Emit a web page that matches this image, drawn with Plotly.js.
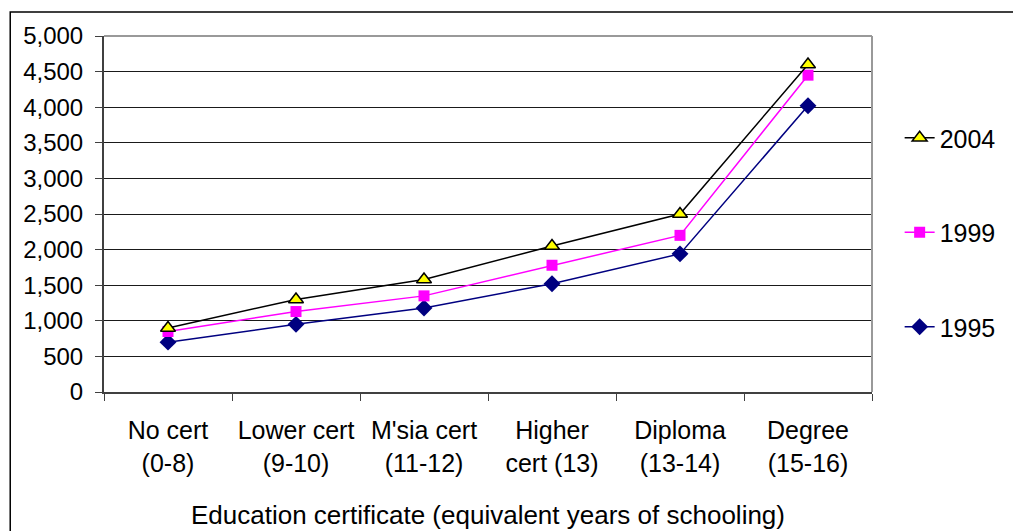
<!DOCTYPE html>
<html>
<head>
<meta charset="utf-8">
<script src="https://cdn.plot.ly/plotly-3.0.1.min.js"></script>
<style>
html,body{margin:0;padding:0;background:#fff;}
#chart{width:1013px;height:531px;}
</style>
</head>
<body>
<div id="chart"></div>
<script>
var categories = ["No cert<br>(0-8)", "Lower cert<br>(9-10)", "M'sia cert<br>(11-12)", "Higher<br>cert (13)", "Diploma<br>(13-14)", "Degree<br>(15-16)"];
var values2004 = [900, 1300, 1580, 2050, 2500, 4600];
var values1999 = [850, 1130, 1350, 1780, 2200, 4450];
var values1995 = [700, 950, 1180, 1520, 1940, 4020];
var yTicks = [0, 500, 1000, 1500, 2000, 2500, 3000, 3500, 4000, 4500, 5000];
var xTitle = "Education certificate (equivalent years of schooling)";

var font = "Liberation Sans, Arial, sans-serif";

var traces = [
  {x: categories, y: values1995, name: "1995", type: "scatter", mode: "lines+markers",
   line: {color: "#000080", width: 1.5},
   marker: {symbol: "diamond", size: 13, color: "#000080"},
   legendgroup: "c", legendrank: 3},
  {x: categories, y: values1999, name: "1999", type: "scatter", mode: "lines+markers",
   line: {color: "#ff00ff", width: 1.5},
   marker: {symbol: "square", size: 11, color: "#ff00ff"},
   legendgroup: "b", legendrank: 2},
  {x: categories, y: values2004, name: "2004", type: "scatter", mode: "lines+markers",
   line: {color: "#000000", width: 1.5},
   marker: {symbol: "triangle-up", size: 13, color: "#ffff00", line: {color: "#000000", width: 1.5}},
   legendgroup: "a", legendrank: 1}
];

var layout = {
  width: 1013, height: 531,
  margin: {l: 104, r: 139, t: 36, b: 139},
  paper_bgcolor: "#ffffff", plot_bgcolor: "#ffffff",
  font: {family: font, size: 25, color: "#000000"},
  showlegend: true,
  legend: {x: 1.036, xanchor: "left", y: 0.778, yanchor: "top",
           traceorder: "grouped", tracegroupgap: 59,
           font: {family: font, size: 25, color: "#000"}, bgcolor: "rgba(0,0,0,0)"},
  xaxis: {
    type: "category", categoryorder: "array", categoryarray: categories,
    range: [-0.5, 5.5], tickson: "boundaries",
    ticks: "outside", ticklen: 7, tickcolor: "#404040", tickwidth: 1,
    ticklabelstandoff: 15,
    showgrid: false, showline: true, linecolor: "#404040", linewidth: 2,
    tickfont: {family: font, size: 25, color: "#000"},
    title: {text: xTitle, font: {family: font, size: 26, color: "#000"}, standoff: 30},
    automargin: false, fixedrange: true
  },
  yaxis: {
    range: [0, 5000], tickvals: yTicks, tickformat: ",",
    ticks: "outside", ticklen: 7, tickcolor: "#404040", tickwidth: 1,
    ticklabelstandoff: 7,
    showgrid: true, gridcolor: "#1a1a1a", gridwidth: 1,
    zeroline: false, showline: true, linecolor: "#404040", linewidth: 2,
    tickfont: {family: font, size: 24, color: "#000"},
    automargin: false, fixedrange: true
  },
  shapes: [
    {type: "line", xref: "paper", yref: "paper", x0: 0, x1: 1, y0: 1, y1: 1,
     line: {color: "#999999", width: 2}},
    {type: "line", xref: "paper", yref: "paper", x0: 1, x1: 1, y0: 0, y1: 1,
     line: {color: "#999999", width: 2}},
    {type: "rect", xref: "paper", yref: "paper", x0: -0.1221, x1: 1.2, y0: 1.0674, y1: -0.45,
     line: {color: "#000000", width: 1.5}, fillcolor: "rgba(0,0,0,0)"}
  ]
};

Plotly.newPlot("chart", traces, layout, {displayModeBar: false, staticPlot: true});
</script>
</body>
</html>
